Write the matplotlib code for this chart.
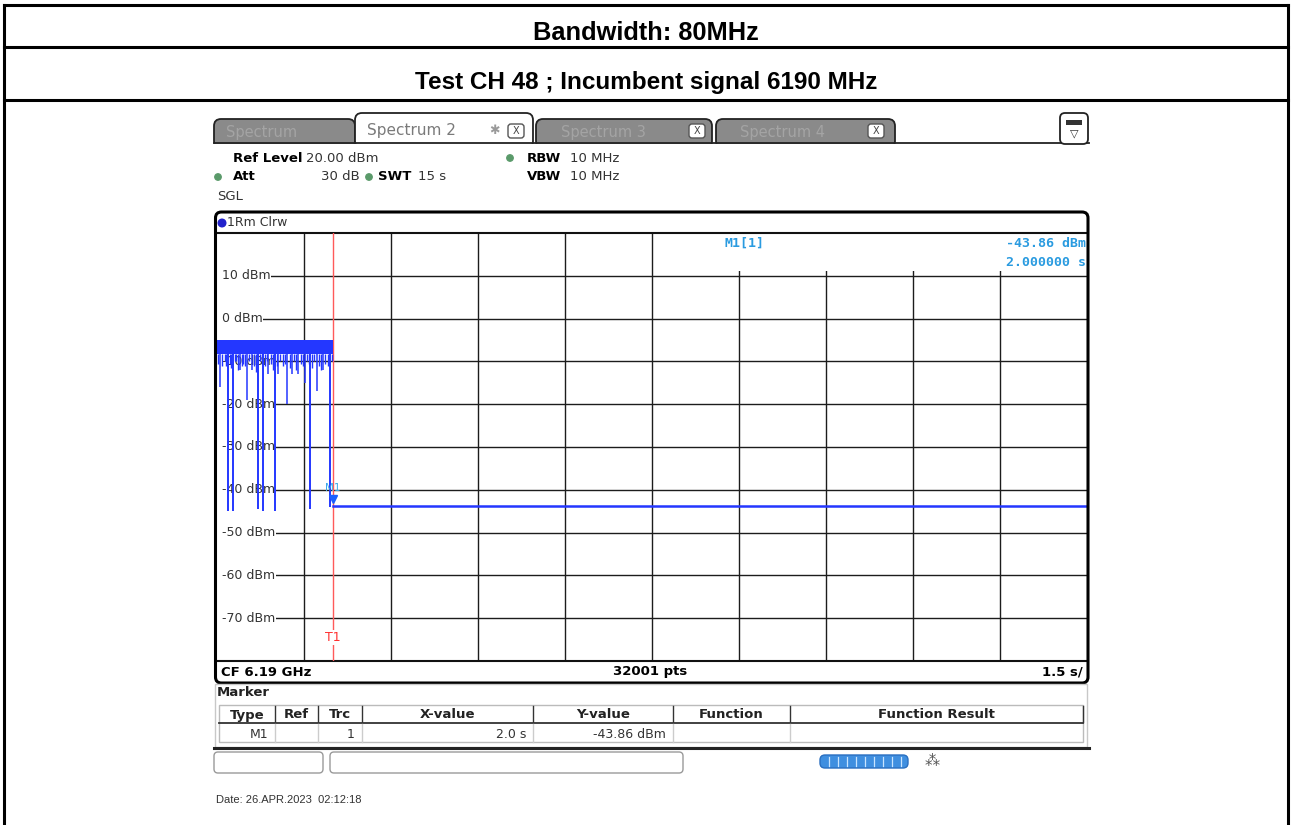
import matplotlib
matplotlib.use("Agg")
import matplotlib.pyplot as plt
from matplotlib.patches import FancyBboxPatch, Rectangle, Circle

# ---------------- data ----------------
title_bw = "Bandwidth: 80MHz"
title_test = "Test CH 48 ; Incumbent signal 6190 MHz"

y_levels = [10, 0, -10, -20, -30, -40, -50, -60, -70]
y_labels = ["10 dBm", "0 dBm", "-10 dBm", "-20 dBm", "-30 dBm", "-40 dBm",
            "-50 dBm", "-60 dBm", "-70 dBm"]
x_div = [1.5, 3.0, 4.5, 6.0, 7.5, 9.0, 10.5, 12.0, 13.5]

# occupied part of the sweep (signal present until marker time)
band_t = [0.0, 2.0]
band_top = [-5.0, -5.0]
band_bot = [-8.3, -8.3]
# deep dips of the trace
deep_dip_t = [0.19, 0.27, 0.70, 0.79, 1.00, 1.60, 1.95]
deep_dip_lvl = [-45.0, -45.0, -44.5, -45.0, -45.0, -44.5, -44.0]
# medium dips
mid_dip_t = [0.05, 0.40, 0.52, 0.60, 0.88, 1.05, 1.21, 1.29, 1.40, 1.52, 1.72, 1.83]
mid_dip_lvl = [-16, -12, -19, -12, -13, -13, -20, -13, -13, -15, -17, -12]
# short "grass" below the band
grass_t = [0.02, 0.09, 0.13, 0.16, 0.22, 0.24, 0.31, 0.33, 0.36, 0.43, 0.45, 0.48,
           0.56, 0.64, 0.67, 0.74, 0.77, 0.83, 0.86, 0.93, 0.97, 1.03, 1.09, 1.13,
           1.17, 1.25, 1.33, 1.36, 1.44, 1.48, 1.56, 1.59, 1.64, 1.68, 1.76, 1.80,
           1.87, 1.91, 1.98]
grass_lvl = [-10.5, -11, -10, -11, -10.5, -11.5, -10, -10, -12, -11, -10.5, -11,
             -10, -11, -12.5, -10, -10.5, -11, -10, -10.5, -12, -11, -10, -11,
             -10.5, -11.5, -10, -12, -10.5, -11, -10, -10.5, -11.5, -10, -11, -12,
             -10.5, -11, -10]
flat_t = [2.0, 15.0]
flat_lvl = [-43.86, -43.86]

marker_t = 2.0
marker_lvl = -43.86

table_headers = ["Type", "Ref", "Trc", "X-value", "Y-value", "Function", "Function Result"]
table_row = ["M1", "", "1", "2.0 s", "-43.86 dBm", "", ""]

# ---------------- figure ----------------
W, H = 1292, 825
fig = plt.figure(figsize=(W / 100, H / 100), dpi=100)
fig.patch.set_facecolor("white")

def fx(px):
    return px / W

def fy(py):
    return 1 - py / H

# chart axes (plot area 217..1087 x 233..661 px)
ax = fig.add_axes([fx(217), fy(661), fx(1087) - fx(217), fy(233) - fy(661)], zorder=1)
ax.set_xlim(0, 15)
ax.set_ylim(-80, 20)
ax.set_xticks([])
ax.set_yticks([])
for s in ["left", "right"]:
    ax.spines[s].set_visible(False)
for s in ["top", "bottom"]:
    ax.spines[s].set_linewidth(1.5)
    ax.spines[s].set_color("#111111")

grid_c = "#1c1c1c"
ax.hlines(y_levels, 0.1, 15, color=grid_c, lw=1.0, zorder=1)
for t in x_div:
    ax.axvline(t, color=grid_c, lw=1.0, zorder=1)

# marker info box (white) covering grid at upper right
ax.add_patch(Rectangle((7.56, 11.1), 15 - 7.56, 20 - 11.1, facecolor="white",
                       edgecolor="none", zorder=2))
mk_c = "#2a9be0"
ax.text(9.1, 17.6, "M1[1]", color=mk_c, fontsize=9.5, family="DejaVu Sans Mono",
        weight="bold", ha="center", va="center", zorder=3)
ax.text(14.98, 17.6, "-43.86 dBm", color=mk_c, fontsize=9.5, family="DejaVu Sans Mono",
        weight="bold", ha="right", va="center", zorder=3)
ax.text(14.98, 13.2, "2.000000 s", color=mk_c, fontsize=9.5, family="DejaVu Sans Mono",
        weight="bold", ha="right", va="center", zorder=3)

# y labels inside the grid
for v, lab in zip(y_levels, y_labels):
    ax.text(0.08, v, lab, fontsize=9, color="#333333", ha="left", va="center",
            zorder=2.5, bbox=dict(facecolor="white", edgecolor="none", pad=0.6))

# trace
tr_c = "#2437ff"
ax.fill_between(band_t, band_bot, band_top, color=tr_c, lw=0, zorder=4)
ax.vlines(grass_t, grass_lvl, band_bot[0], color=tr_c, lw=1.0, zorder=4)
ax.vlines(mid_dip_t, mid_dip_lvl, band_bot[0], color=tr_c, lw=1.1, zorder=4)
ax.vlines(deep_dip_t, deep_dip_lvl, band_bot[0], color=tr_c, lw=1.4, zorder=4)
ax.plot(flat_t, flat_lvl, color=tr_c, lw=1.8, zorder=4)

# red time line and T1
ax.axvline(marker_t, color="#ff5a5a", lw=1.0, zorder=3)
ax.text(marker_t, -74.5, "T1", color="#ff3030", fontsize=9, ha="center", va="center",
        zorder=3.5, bbox=dict(facecolor="white", edgecolor="none", pad=0.5))

# marker symbol
ax.plot([marker_t], [marker_lvl + 1.8], marker="v", color="#1a60ff", ms=6, zorder=5)
ax.text(marker_t, -39.6, "M1", color="#3aa8e8", fontsize=7.5, ha="center", va="center",
        zorder=5)

# ---------------- UI overlay ----------------
ui = fig.add_axes([0, 0, 1, 1], zorder=2)
ui.set_xlim(0, W)
ui.set_ylim(H, 0)
ui.axis("off")
ui.patch.set_alpha(0)

# outer table frame
lw_frame = 2.2
ui.plot([4, 4], [5, H], color="black", lw=lw_frame)
ui.plot([1288, 1288], [5, H], color="black", lw=lw_frame)
for yy in [5, 47, 100]:
    ui.plot([4, 1288], [yy, yy], color="black", lw=lw_frame)

ui.text(646, 33, title_bw, ha="center", va="center", fontsize=18.3,
        family="Liberation Sans", weight="bold")
ui.text(646, 82, title_test, ha="center", va="center", fontsize=17.5,
        family="Liberation Sans", weight="bold")

# tabs
def tab(x0, x1, y0, y1, fc, ec="#222222"):
    p = FancyBboxPatch((x0, y0), x1 - x0, y1 - y0 + 8,
                       boxstyle="round,pad=0,rounding_size=7",
                       facecolor=fc, edgecolor=ec, lw=1.3)
    ui.add_patch(p)

tab(214, 355, 119, 140, "#8a8a8a")
tab(536, 712, 119, 140, "#8a8a8a")
tab(716, 895, 119, 140, "#8a8a8a")
tab(355, 533, 113, 140, "white")
# mask lower parts of tabs below the base line
ui.add_patch(Rectangle((210, 143.5), 890, 10, facecolor="white", edgecolor="none", zorder=2))
ui.plot([214, 1089], [143, 143], color="#222222", lw=1.3, zorder=3)
ui.text(226, 132, "Spectrum", fontsize=10.5, color="#a4a4a4", va="center")
ui.text(561, 132, "Spectrum 3", fontsize=10.5, color="#a4a4a4", va="center")
ui.text(740, 132, "Spectrum 4", fontsize=10.5, color="#a4a4a4", va="center")
ui.text(367, 131, "Spectrum 2", fontsize=11, color="#7a7a7a", va="center")
ui.text(494, 131, "\u2731", fontsize=9, color="#9a9a9a", ha="center", va="center")
for bx in [516, 697, 876]:
    ui.add_patch(FancyBboxPatch((bx - 8, 124), 16, 14, boxstyle="round,pad=0,rounding_size=3",
                                facecolor="white", edgecolor="#555555", lw=1.0))
    ui.text(bx, 131, "X", fontsize=7, color="#444444", ha="center", va="center")
# right icon
ui.add_patch(FancyBboxPatch((1060, 113), 28, 31, boxstyle="round,pad=0,rounding_size=5",
                            facecolor="white", edgecolor="#222222", lw=1.3, zorder=3))
ui.add_patch(Rectangle((1066, 120), 16, 5, facecolor="#333333", edgecolor="none", zorder=4))
ui.text(1074, 133, "\u25bd", fontsize=8, ha="center", va="center", color="#333333", zorder=4)

# setting info
fs_i = 9.5
grn = "#5a9a6a"
ui.text(233, 158, "Ref Level", fontsize=fs_i, weight="bold", va="center")
ui.text(306, 158, "20.00 dBm", fontsize=fs_i, va="center", color="#333333")
ui.add_patch(Circle((510, 158), 3.2, color=grn))
ui.text(527, 158, "RBW", fontsize=fs_i, weight="bold", va="center")
ui.text(570, 158, "10 MHz", fontsize=fs_i, va="center", color="#333333")
ui.add_patch(Circle((218, 177), 3.2, color=grn))
ui.text(233, 177, "Att", fontsize=fs_i, weight="bold", va="center")
ui.text(360, 177, "30 dB", fontsize=fs_i, va="center", ha="right", color="#333333")
ui.add_patch(Circle((369, 177), 3.2, color=grn))
ui.text(378, 177, "SWT", fontsize=fs_i, weight="bold", va="center")
ui.text(418, 177, "15 s", fontsize=fs_i, va="center", color="#333333")
ui.text(527, 177, "VBW", fontsize=fs_i, weight="bold", va="center")
ui.text(570, 177, "10 MHz", fontsize=fs_i, va="center", color="#333333")
ui.text(217, 196, "SGL", fontsize=fs_i, va="center", color="#333333")

# chart frame
ui.add_patch(FancyBboxPatch((215.5, 212), 1088 - 215.5, 683 - 212,
                            boxstyle="round,pad=0,rounding_size=6",
                            facecolor="none", edgecolor="black", lw=2.2))
ui.add_patch(Circle((222, 223), 3.8, color="#2222cc"))
ui.text(227, 223, "1Rm Clrw", fontsize=9, va="center", color="#333333")
ui.text(221, 672, "CF 6.19 GHz", fontsize=9.5, weight="bold", va="center")
ui.text(650, 672, "32001 pts", fontsize=9.5, weight="bold", va="center", ha="center")
ui.text(1083, 672, "1.5 s/", fontsize=9.5, weight="bold", va="center", ha="right")

# marker table panel
ui.add_patch(Rectangle((215, 684), 1087 - 215, 747 - 684, facecolor="none",
                       edgecolor="#c8c8c8", lw=1.0))
ui.plot([214, 1089], [747.5, 747.5], color="#222222", lw=2.2)
ui.text(217, 692, "Marker", fontsize=9.5, weight="bold", va="center", color="#222222")
col_edges = [219, 275, 318, 362, 533, 673, 790, 1083]
ui.add_patch(Rectangle((219, 705), 1083 - 219, 37, facecolor="none",
                       edgecolor="#bbbbbb", lw=1.0))
ui.plot([219, 1083], [723, 723], color="#333333", lw=1.3)
for xe in col_edges[1:-1]:
    ui.plot([xe, xe], [706, 722], color="#333333", lw=1.0)
    ui.plot([xe, xe], [724, 742], color="#cccccc", lw=1.0)
ui.plot([1083, 1083], [706, 722], color="#333333", lw=1.0)
for i, h in enumerate(table_headers):
    cx = (col_edges[i] + col_edges[i + 1]) / 2
    ui.text(cx, 715, h, fontsize=9.5, weight="bold", ha="center", va="center", color="#222222")
for i, v in enumerate(table_row):
    if v:
        ui.text(col_edges[i + 1] - 7, 734, v, fontsize=9, ha="right", va="center",
                color="#333333")

# status bar
ui.add_patch(FancyBboxPatch((214, 752), 323 - 214, 21, boxstyle="round,pad=0,rounding_size=4",
                            facecolor="white", edgecolor="#9a9a9a", lw=1.0))
ui.add_patch(FancyBboxPatch((330, 752), 683 - 330, 21, boxstyle="round,pad=0,rounding_size=4",
                            facecolor="white", edgecolor="#9a9a9a", lw=1.0))
ui.add_patch(FancyBboxPatch((820, 755), 88, 13, boxstyle="round,pad=0,rounding_size=5",
                            facecolor="#3f8fe0", edgecolor="#2a6fc0", lw=1.0))
for xx in range(829, 905, 9):
    ui.plot([xx, xx], [757, 766], color="#c8e4ff", lw=0.9)
ui.text(932, 761, "\u2042", fontsize=11, ha="center", va="center", color="#555555")

ui.text(216, 800, "Date: 26.APR.2023  02:12:18", fontsize=8, family="Liberation Sans",
        va="center", color="#333333")

fig.savefig("out.png", dpi=100, facecolor="white")
